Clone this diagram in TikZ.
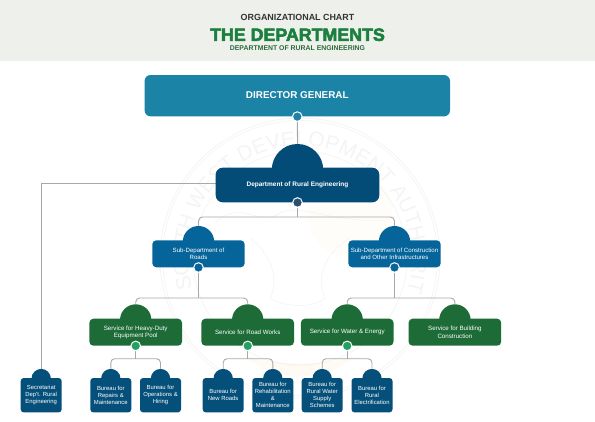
\documentclass[tikz,border=0pt]{standalone}
\usepackage{fontspec}
\setmainfont{Liberation Sans}
\usetikzlibrary{backgrounds,decorations.text}
\definecolor{headbg}{HTML}{EEF0EC}
\definecolor{dirc}{HTML}{1B83A6}
\definecolor{depc}{HTML}{044C78}
\definecolor{subc}{HTML}{05659B}
\definecolor{serc}{HTML}{1D6B37}
\definecolor{burc}{HTML}{05507A}
\definecolor{dotdep}{HTML}{2A5070}
\definecolor{dotser}{HTML}{22A163}
\definecolor{linec}{HTML}{A8A8A8}
\definecolor{titleg}{HTML}{1B7F3E}
\definecolor{subtg}{HTML}{2C6B3A}
\definecolor{wm}{HTML}{F4F4F3}
\newfontfamily\heavyfont[FakeBold=3.2]{Liberation Sans Bold}
\newcommand{\OrgUnit}[5]{%
  \node[#2 dome] (#1dome) at (#3,#4) {};
  \node[#2 box] (#1) at (#3,#4) {#5};
}
\tikzset{
  base box/.style={draw=none,inner sep=0pt,align=center,text=white},
  base dome/.style={circle,draw=none,inner sep=0pt},
  dept box/.style={base box,fill=depc,minimum width=163.6pt,minimum height=34.6pt,rounded corners=7pt,font=\fontsize{6.5}{7}\selectfont\bfseries},
  dept dome/.style={base dome,fill=depc,minimum size=51.4pt,yshift=15.3pt},
  sub box/.style={base box,fill=subc,minimum width=92.4pt,minimum height=27pt,rounded corners=4pt,font=\fontsize{6.1}{7.5}\selectfont},
  sub dome/.style={base dome,fill=subc,minimum size=31.4pt,yshift=12.1pt},
  serv box/.style={base box,fill=serc,minimum width=92.6pt,minimum height=27pt,rounded corners=4pt,font=\fontsize{6.2}{7.2}\selectfont},
  serv dome/.style={base dome,fill=serc,minimum size=31.4pt,yshift=12.2pt},
  bur box/.style={base box,fill=burc,minimum width=41pt,minimum height=34.3pt,rounded corners=3pt,font=\fontsize{5.9}{6.9}\selectfont},
  bur dome/.style={base dome,fill=burc,minimum size=19.4pt,yshift=16.6pt},
  conn/.style={draw=linec,line width=0.9pt,rounded corners=4pt},
  orgdot/.style={circle,draw=white,line width=1pt,inner sep=0pt,minimum size=9.6pt},
  titletext/.style={inner sep=0pt,anchor=center},
  wmring/.style={draw=wm,line width=0.8pt},
}
\begin{document}
\begin{tikzpicture}[x=1pt,y=-1pt]
\useasboundingbox (0,0) rectangle (595,421);
\fill[headbg] (0,0) rectangle (595,60.5);
\node[titletext,text=black!80,font=\fontsize{8.9}{10}\selectfont\bfseries] (t1) at (297.5,17.7) {ORGANIZATIONAL CHART};
\node[titletext,text=titleg,font=\fontsize{17.8}{19}\heavyfont] (t2) at (297.5,34.7) {THE DEPARTMENTS};
\node[titletext,text=subtg,font=\fontsize{6.9}{8}\selectfont\bfseries] (t3) at (297.5,47.7) {DEPARTMENT OF RURAL ENGINEERING};

% director
\node[base box,fill=dirc,minimum width=305.4pt,minimum height=41.4pt,rounded corners=6pt,font=\fontsize{9.9}{11}\selectfont\bfseries] (dg) at (297.3,95.7) {\raisebox{2.3pt}{DIRECTOR GENERAL}};

% level units
\OrgUnit{dep}{dept}{297.5}{185}{\raisebox{0.9pt}{Department of Rural Engineering}}
\OrgUnit{sr}{sub}{198.5}{253.8}{Sub-Department of\\Roads}
\OrgUnit{sc}{sub}{394.5}{253.8}{Sub-Department of Construction\\and Other Infrastructures}
\OrgUnit{hd}{serv}{135.7}{332.2}{Service for Heavy-Duty\\Equipment Pool}
\OrgUnit{rw}{serv}{247.7}{332.2}{Service for Road Works}
\OrgUnit{we}{serv}{347.2}{332.2}{Service for Water \& Energy}
\OrgUnit{bc}{serv}{454.9}{332.2}{Service for Building\\Construction}
\OrgUnit{sec}{bur}{41.2}{395.2}{Secretariat\\Dep't. Rural\\Engineering}
\OrgUnit{b1}{bur}{110.8}{395.2}{Bureau for\\Repairs \&\\Maintenance}
\OrgUnit{b2}{bur}{160.5}{395.2}{Bureau for\\Operations \&\\Hiring}
\OrgUnit{b3}{bur}{223.2}{395.2}{Bureau for\\New Roads}
\OrgUnit{b4}{bur}{272.8}{395.2}{Bureau for\\Rehabilitation\\\&\\Maintenance}
\OrgUnit{b5}{bur}{322.2}{395.2}{Bureau for\\Rural Water\\Supply\\Schemes}
\OrgUnit{b6}{bur}{372}{395.2}{Bureau for\\Rural\\Electrification}

% dots
\node[orgdot,fill=dirc] (d0) at (dg.south) {};
\node[orgdot,fill=dotdep] (d1) at (dep.south) {};
\node[orgdot,fill=subc] (d2) at (sr.south) {};
\node[orgdot,fill=subc] (d3) at (sc.south) {};
\node[orgdot,fill=dotser] (d4) at (hd.south) {};
\node[orgdot,fill=dotser] (d5) at (rw.south) {};
\node[orgdot,fill=dotser] (d6) at (we.south) {};

% bus coordinates
\coordinate (bus1) at (297.5,217);
\coordinate (bus2) at (198.5,298);
\coordinate (bus3) at (394.5,298);
\coordinate (bus4) at (135.7,358.7);
\coordinate (bus5) at (247.7,358.7);
\coordinate (bus6) at (347.2,358.7);
\coordinate (elbow) at (41.2,183.3);

\begin{scope}[on background layer]
  \begin{scope}[x=1pt,y=1pt,shift={(300pt,-258pt)}]
    \draw[wmring] (0,0) circle[radius=140];
    \draw[wmring] (0,0) circle[radius=137.5];
    \draw[wmring] (0,0) circle[radius=107];
    \path[decorate,decoration={text along path,
        text={|\fontsize{21}{23}\selectfont\color{wm}|SOUTH WEST DEVELOPMENT AUTHORITY},
        text align={fit to path}}]
      (196:112) arc[start angle=196,end angle=-16,radius=112];
    \fill[yellow!40!orange,opacity=0.02] (50,45) ellipse[x radius=42,y radius=45];
    \fill[orange!60,opacity=0.07] (-55,-98) .. controls (-25,-125) and (25,-125) .. (55,-98) .. controls (25,-108) and (-25,-108) .. (-55,-98);
    \draw[wm,line width=0.7pt] (-85,35) .. controls (-60,60) and (-40,30) .. (-20,45) .. controls (0,55) and (30,35) .. (85,38);
    \draw[wm,line width=0.7pt] (-50,20) .. controls (-30,5) and (-20,-20) .. (-30,-40) .. controls (-15,-50) and (15,-50) .. (25,-40) .. controls (15,-20) and (25,5) .. (50,20);
  \end{scope}
  \draw[conn,line width=1.1pt,rounded corners=0pt] (dep.west |- elbow) -- (elbow) -- (elbow |- secdome.north);
  \draw[conn] (d0) -- (depdome.north);
  \draw[conn] (d1) -- (bus1);
  \draw[conn] (srdome.north) |- (bus1) -| (scdome.north);
  \draw[conn] (d2) -- (bus2);
  \draw[conn] (hddome.north) |- (bus2) -| (rwdome.north);
  \draw[conn] (d3) -- (bus3);
  \draw[conn] (wedome.north) |- (bus3) -| (bcdome.north);
  \draw[conn] (d4) -- (bus4);
  \draw[conn] (b1dome.north) |- (bus4) -| (b2dome.north);
  \draw[conn] (d5) -- (bus5);
  \draw[conn] (b3dome.north) |- (bus5) -| (b4dome.north);
  \draw[conn] (d6) -- (bus6);
  \draw[conn] (b5dome.north) |- (bus6) -| (b6dome.north);
\end{scope}
\end{tikzpicture}
\end{document}
